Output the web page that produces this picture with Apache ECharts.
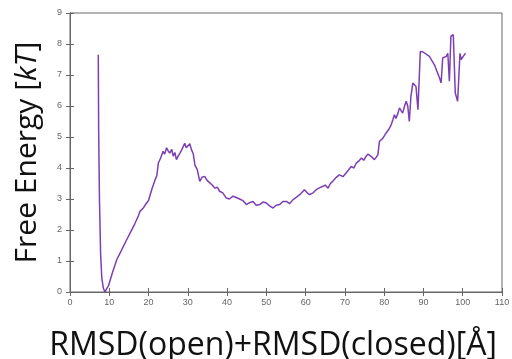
<!DOCTYPE html>
<html>
<head>
<meta charset="utf-8">
<script src="https://cdn.jsdelivr.net/npm/echarts@6/dist/echarts.min.js"></script>
<style>
  html, body { margin: 0; padding: 0; background: #fff; }
  #chart { width: 512px; height: 359px; }
</style>
</head>
<body>
<div id="chart"></div>
<script>
// free energy profile along RMSD(open)+RMSD(closed)
var rmsd = [7.2, 7.3, 7.5, 7.8, 8.1, 8.5, 8.9, 9.3, 9.8, 10.8, 11.9, 13.0, 14.2, 15.3, 16.5, 17.4, 17.8, 18.6, 19.5, 20.0, 20.8, 21.3, 21.6, 22.1, 22.5, 23.0, 23.7, 24.1, 24.6, 25.0, 25.4, 25.9, 26.3, 26.7, 27.1, 27.6, 28.0, 28.5, 29.2, 29.6, 30.1, 30.5, 30.9, 31.4, 31.8, 32.4, 33.05, 33.6, 34.3, 34.9, 35.6, 36.2, 36.9, 37.5, 38.1, 38.9, 39.8, 40.6, 41.5, 42.3, 43.2, 44.0, 44.9, 45.7, 46.6, 47.4, 48.3, 49.1, 50.0, 50.8, 51.7, 52.5, 53.4, 54.2, 55.1, 55.9, 56.8, 57.6, 58.5, 59.1, 59.7, 60.4, 61.0, 61.9, 62.7, 63.5, 64.4, 65.0, 65.7, 66.3, 66.9, 67.8, 68.6, 69.5, 70.3, 71.0, 71.6, 72.3, 72.9, 73.5, 74.2, 74.8, 75.4, 75.9, 76.3, 76.9, 77.5, 78.0, 78.4, 78.8, 79.6, 80.5, 81.2, 81.8, 82.2, 82.6, 83.0, 83.5, 83.9, 84.3, 84.7, 85.2, 85.6, 86.0, 86.4, 86.8, 87.3, 87.7, 88.1, 88.6, 89.2, 89.8, 90.3, 91.5, 92.8, 93.5, 94.1, 94.5, 94.9, 95.4, 95.8, 96.2, 96.6, 97.0, 97.6, 98.1, 98.7, 99.3, 99.6, 100.0, 100.4, 100.7];
var energy = [7.65, 5.2, 3.0, 1.2, 0.45, 0.12, 0.0, 0.1, 0.2, 0.62, 1.04, 1.32, 1.63, 1.9, 2.2, 2.45, 2.6, 2.7, 2.87, 2.95, 3.3, 3.35, 3.6, 3.75, 4.16, 4.3, 4.54, 4.45, 4.65, 4.55, 4.48, 4.6, 4.38, 4.5, 4.27, 4.4, 4.48, 4.6, 4.8, 4.65, 4.7, 4.78, 4.6, 4.45, 4.1, 3.95, 3.57, 3.7, 3.73, 3.6, 3.52, 3.45, 3.35, 3.38, 3.25, 3.2, 3.03, 3.0, 3.09, 3.05, 3.0, 2.95, 2.82, 2.88, 2.92, 2.8, 2.82, 2.9, 2.87, 2.78, 2.71, 2.8, 2.82, 2.92, 2.92, 2.85, 2.98, 3.05, 3.14, 3.22, 3.3, 3.2, 3.14, 3.2, 3.3, 3.36, 3.41, 3.45, 3.35, 3.5, 3.57, 3.7, 3.78, 3.72, 3.84, 3.95, 4.05, 4.0, 4.16, 4.22, 4.32, 4.25, 4.38, 4.45, 4.48, 4.35, 4.27, 4.35, 4.43, 4.86, 4.95, 5.13, 5.25, 5.4, 5.55, 5.72, 5.6, 5.77, 5.94, 5.85, 5.77, 6.0, 6.15, 6.0, 5.5, 6.3, 6.74, 6.7, 6.63, 5.88, 7.76, 7.75, 7.76, 7.6, 7.33, 7.1, 6.9, 6.74, 7.55, 7.5, 7.6, 7.7, 6.8, 8.25, 8.3, 6.42, 6.15, 7.7, 7.5, 7.55, 7.65, 7.7];

var points = [];
for (var i = 0; i < rmsd.length; i++) {
	points.push([rmsd[i], energy[i]]);
}

var chart = echarts.init(document.getElementById('chart'));

var tickLab = { color: '#666', fontSize: 9, fontFamily: 'Liberation Sans' };
var boxLine = { lineStyle: { color: '#666', width: 1 } };
var inTick = { show: true, inside: true, length: 4, lineStyle: { color: '#666' } };

chart.setOption({
	animation: false,
	grid: { left: 70, right: 10, top: 13, bottom: 67, outerBoundsMode: 'none', show: true, borderColor: '#666', borderWidth: 1 },
	xAxis: [
		{
			type: 'value', min: 0, max: 110, interval: 10,
			axisLine: boxLine,
			axisTick: inTick,
			axisLabel: Object.assign({ margin: 6 }, tickLab),
			splitLine: { show: false },
			name: 'RMSD(open)+RMSD(closed)[Å]',
			nameLocation: 'middle',
			nameGap: 38,
			nameTextStyle: { color: '#111', fontSize: 32, fontFamily: 'Open Sans', padding: [0, 26, 0, 0] }
		},
		{
			type: 'value', position: 'top', min: 0, max: 110, interval: 10,
			axisLine: boxLine,
			axisTick: inTick,
			axisLabel: { show: false },
			splitLine: { show: false }
		}
	],
	yAxis: [
		{
			type: 'value', min: 0, max: 9, interval: 1,
			axisLine: { show: true, lineStyle: { color: '#666' } },
			axisTick: inTick,
			axisLabel: Object.assign({ margin: 8 }, tickLab),
			splitLine: { show: false },
			name: '{n|Free Energy [}{i|kT}{n|]}',
			nameLocation: 'middle',
			nameRotate: 90,
			nameGap: 28,
			nameTextStyle: {
				rich: {
					n: { color: '#111', fontSize: 30, fontFamily: 'Open Sans' },
					i: { color: '#111', fontSize: 30, fontFamily: 'Open Sans', fontStyle: 'italic' }
				}
			}
		},
		{
			type: 'value', position: 'right', min: 0, max: 9, interval: 1,
			axisLine: { show: true, lineStyle: { color: '#666' } },
			axisTick: inTick,
			axisLabel: { show: false },
			splitLine: { show: false }
		}
	],
	series: [
		{
			type: 'line',
			data: points,
			symbol: 'none',
			lineStyle: { color: '#7d3fb3', width: 1.5 }
		}
	]
});
</script>
</body>
</html>
